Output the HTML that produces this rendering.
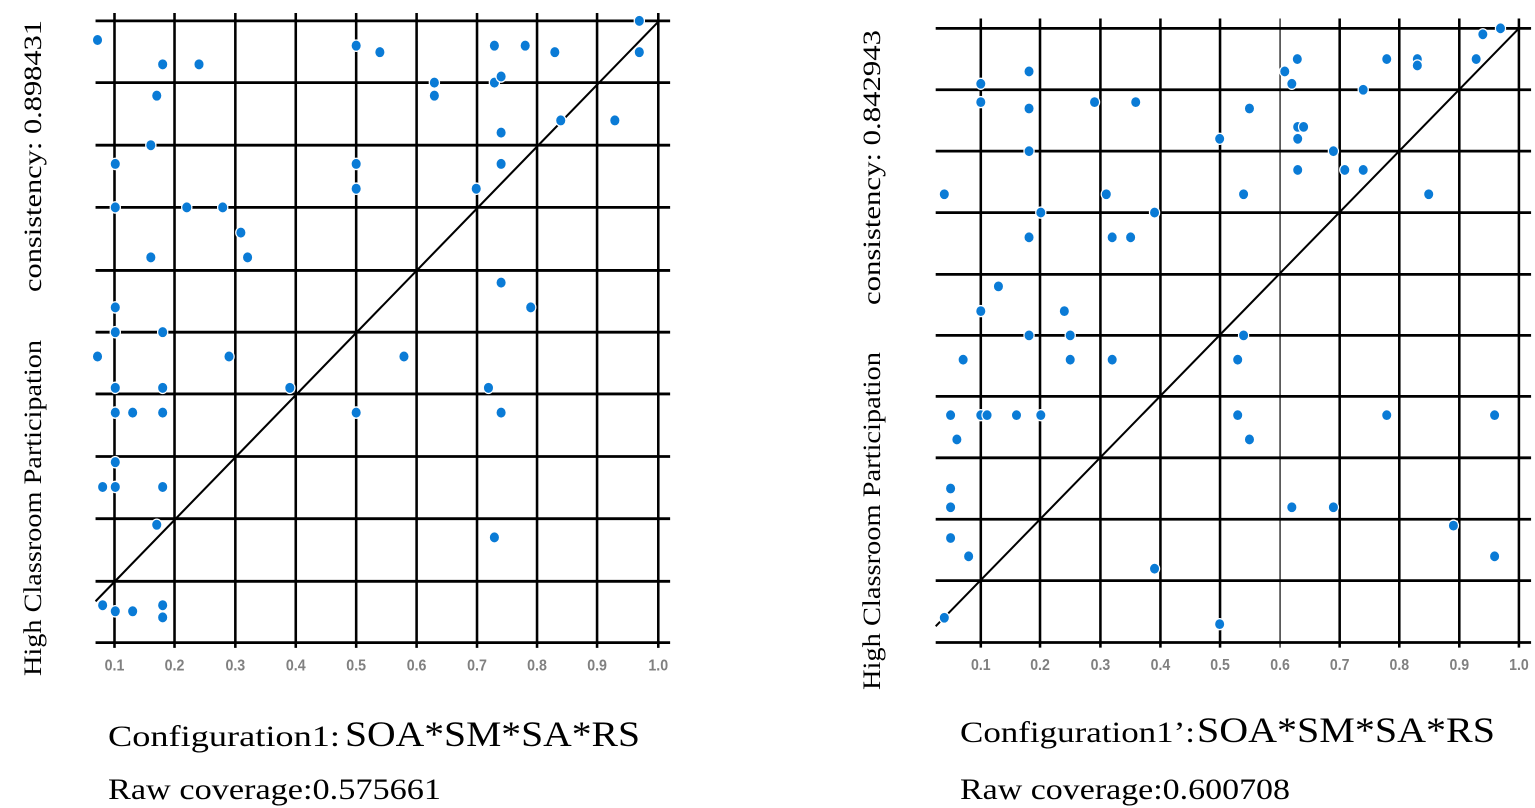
<!DOCTYPE html>
<html><head><meta charset="utf-8"><style>
html,body{margin:0;padding:0;background:#fff;width:1535px;height:808px;overflow:hidden}
svg{display:block}
.t{font-family:"Liberation Serif","Times New Roman",serif;fill:#000}
.lab{font-family:"Liberation Sans",sans-serif;font-weight:bold;fill:#808080;font-size:36px}
</style></head><body>
<svg width="1535" height="808" viewBox="0 0 1535 808" xmlns="http://www.w3.org/2000/svg">
<rect width="1535" height="808" fill="#fff"/>

<!-- LEFT PLOT -->
<svg x="60" y="0" width="620" height="680" viewBox="0 0 1570 1564" preserveAspectRatio="none">
 <g stroke="#000" stroke-width="6.5">
  <line x1="90" y1="48" x2="1545" y2="48"/><line x1="90" y1="190" x2="1545" y2="190"/>
  <line x1="90" y1="334" x2="1545" y2="334"/><line x1="90" y1="477" x2="1545" y2="477"/>
  <line x1="90" y1="622" x2="1545" y2="622"/><line x1="90" y1="764" x2="1545" y2="764"/>
  <line x1="90" y1="906" x2="1545" y2="906"/><line x1="90" y1="1050" x2="1545" y2="1050"/>
  <line x1="90" y1="1193" x2="1545" y2="1193"/><line x1="90" y1="1337" x2="1545" y2="1337"/>
  <line x1="90" y1="1478" x2="1545" y2="1478"/>
  <line x1="138" y1="30" x2="138" y2="1490"/><line x1="290" y1="30" x2="290" y2="1490"/>
  <line x1="444" y1="30" x2="444" y2="1490"/><line x1="597" y1="30" x2="597" y2="1490"/>
  <line x1="750" y1="30" x2="750" y2="1490"/><line x1="903" y1="30" x2="903" y2="1490"/>
  <line x1="1056" y1="30" x2="1056" y2="1490"/><line x1="1208" y1="30" x2="1208" y2="1490"/>
  <line x1="1360" y1="30" x2="1360" y2="1490"/><line x1="1515" y1="30" x2="1515" y2="1490"/>
  <line x1="90" y1="1383" x2="1515" y2="50" stroke-width="5"/>
 </g>
 <g fill="#0a7bd6" stroke="#fff" stroke-width="3">
  <circle cx="95" cy="92" r="13"/><circle cx="1467" cy="48" r="13"/><circle cx="750" cy="105" r="13"/>
  <circle cx="810" cy="120" r="13"/><circle cx="1100" cy="105" r="13"/><circle cx="1178" cy="105" r="13"/>
  <circle cx="1253" cy="120" r="13"/><circle cx="1467" cy="120" r="13"/><circle cx="260" cy="148" r="13"/>
  <circle cx="352" cy="148" r="13"/><circle cx="948" cy="190" r="13"/><circle cx="1100" cy="190" r="13"/>
  <circle cx="1117" cy="176" r="13"/><circle cx="245" cy="220" r="13"/><circle cx="948" cy="220" r="13"/>
  <circle cx="1268" cy="277" r="13"/><circle cx="1405" cy="277" r="13"/><circle cx="1117" cy="305" r="13"/>
  <circle cx="230" cy="334" r="13"/><circle cx="140" cy="377" r="13"/><circle cx="750" cy="377" r="13"/>
  <circle cx="1117" cy="377" r="13"/><circle cx="750" cy="434" r="13"/><circle cx="1054" cy="434" r="13"/>
  <circle cx="140" cy="477" r="13"/><circle cx="321" cy="477" r="13"/><circle cx="412" cy="477" r="13"/>
  <circle cx="458" cy="535" r="13"/><circle cx="230" cy="592" r="13"/><circle cx="475" cy="592" r="13"/>
  <circle cx="1117" cy="650" r="13"/><circle cx="1192" cy="707" r="13"/><circle cx="140" cy="707" r="13"/>
  <circle cx="140" cy="764" r="13"/><circle cx="260" cy="764" r="13"/><circle cx="95" cy="820" r="13"/>
  <circle cx="428" cy="820" r="13"/><circle cx="871" cy="820" r="13"/><circle cx="140" cy="892" r="13"/>
  <circle cx="260" cy="892" r="13"/><circle cx="582" cy="892" r="13"/><circle cx="1085" cy="892" r="13"/>
  <circle cx="140" cy="949" r="13"/><circle cx="184" cy="949" r="13"/><circle cx="260" cy="949" r="13"/>
  <circle cx="750" cy="949" r="13"/><circle cx="1117" cy="949" r="13"/><circle cx="140" cy="1063" r="13"/>
  <circle cx="108" cy="1120" r="13"/><circle cx="140" cy="1120" r="13"/><circle cx="260" cy="1120" r="13"/>
  <circle cx="245" cy="1207" r="13"/><circle cx="1100" cy="1236" r="13"/><circle cx="108" cy="1392" r="13"/>
  <circle cx="140" cy="1406" r="13"/><circle cx="184" cy="1406" r="13"/><circle cx="260" cy="1392" r="13"/>
  <circle cx="260" cy="1420" r="13"/>
 </g>
 <g class="lab" text-anchor="middle">
  <text x="138" y="1542">0.1</text><text x="290" y="1542">0.2</text><text x="444" y="1542">0.3</text>
  <text x="597" y="1542">0.4</text><text x="750" y="1542">0.5</text><text x="903" y="1542">0.6</text>
  <text x="1056" y="1542">0.7</text><text x="1208" y="1542">0.8</text><text x="1360" y="1542">0.9</text>
  <text x="1515" y="1542">1.0</text>
 </g>
</svg>

<!-- RIGHT PLOT -->
<svg x="920" y="10" width="615" height="670" viewBox="0 0 1568 1571" preserveAspectRatio="none">
 <g stroke="#000" stroke-width="6.5">
  <line x1="40" y1="43" x2="1558" y2="43"/><line x1="40" y1="187" x2="1558" y2="187"/>
  <line x1="40" y1="331" x2="1558" y2="331"/><line x1="40" y1="475" x2="1558" y2="475"/>
  <line x1="40" y1="620" x2="1558" y2="620"/><line x1="40" y1="763" x2="1558" y2="763"/>
  <line x1="40" y1="906" x2="1558" y2="906"/><line x1="40" y1="1050" x2="1558" y2="1050"/>
  <line x1="40" y1="1194" x2="1558" y2="1194"/><line x1="40" y1="1338" x2="1558" y2="1338"/>
  <line x1="40" y1="1483" x2="1558" y2="1483"/>
  <line x1="155" y1="20" x2="155" y2="1495"/><line x1="306" y1="20" x2="306" y2="1495"/>
  <line x1="460" y1="20" x2="460" y2="1495"/><line x1="613" y1="20" x2="613" y2="1495"/>
  <line x1="765" y1="20" x2="765" y2="1495"/><line x1="918" y1="20" x2="918" y2="1495" stroke-width="3"/>
  <line x1="1070" y1="20" x2="1070" y2="1495"/><line x1="1222" y1="20" x2="1222" y2="1495"/>
  <line x1="1375" y1="20" x2="1375" y2="1495"/><line x1="1527" y1="20" x2="1527" y2="1495"/>
  <line x1="40" y1="1445" x2="1527" y2="43" stroke-width="5"/>
 </g>
 <g fill="#0a7bd6" stroke="#fff" stroke-width="3">
  <circle cx="1480" cy="43" r="13"/><circle cx="1435" cy="57" r="13"/><circle cx="1418" cy="115" r="13"/>
  <circle cx="1190" cy="115" r="13"/><circle cx="1268" cy="115" r="13"/><circle cx="1268" cy="130" r="13"/>
  <circle cx="962" cy="115" r="13"/><circle cx="930" cy="144" r="13"/><circle cx="278" cy="144" r="13"/>
  <circle cx="155" cy="173" r="13"/><circle cx="948" cy="173" r="13"/><circle cx="1130" cy="187" r="13"/>
  <circle cx="155" cy="216" r="13"/><circle cx="445" cy="216" r="13"/><circle cx="550" cy="216" r="13"/>
  <circle cx="278" cy="231" r="13"/><circle cx="840" cy="231" r="13"/><circle cx="963" cy="274" r="13"/>
  <circle cx="978" cy="274" r="13"/><circle cx="963" cy="302" r="13"/><circle cx="764" cy="302" r="13"/>
  <circle cx="278" cy="331" r="13"/><circle cx="1054" cy="331" r="13"/><circle cx="963" cy="375" r="13"/>
  <circle cx="1083" cy="375" r="13"/><circle cx="1130" cy="375" r="13"/><circle cx="62" cy="432" r="13"/>
  <circle cx="475" cy="432" r="13"/><circle cx="825" cy="432" r="13"/><circle cx="1297" cy="432" r="13"/>
  <circle cx="308" cy="475" r="13"/><circle cx="598" cy="475" r="13"/><circle cx="278" cy="533" r="13"/>
  <circle cx="490" cy="533" r="13"/><circle cx="537" cy="533" r="13"/><circle cx="200" cy="648" r="13"/>
  <circle cx="155" cy="706" r="13"/><circle cx="368" cy="706" r="13"/><circle cx="278" cy="763" r="13"/>
  <circle cx="383" cy="763" r="13"/><circle cx="825" cy="763" r="13"/><circle cx="110" cy="820" r="13"/>
  <circle cx="383" cy="820" r="13"/><circle cx="490" cy="820" r="13"/><circle cx="810" cy="820" r="13"/>
  <circle cx="78" cy="950" r="13"/><circle cx="155" cy="950" r="13"/><circle cx="171" cy="950" r="13"/>
  <circle cx="246" cy="950" r="13"/><circle cx="308" cy="950" r="13"/><circle cx="810" cy="950" r="13"/>
  <circle cx="1190" cy="950" r="13"/><circle cx="1465" cy="950" r="13"/><circle cx="94" cy="1007" r="13"/>
  <circle cx="840" cy="1007" r="13"/><circle cx="78" cy="1122" r="13"/><circle cx="78" cy="1166" r="13"/>
  <circle cx="948" cy="1166" r="13"/><circle cx="1054" cy="1166" r="13"/><circle cx="1360" cy="1209" r="13"/>
  <circle cx="78" cy="1238" r="13"/><circle cx="124" cy="1281" r="13"/><circle cx="1465" cy="1281" r="13"/>
  <circle cx="598" cy="1310" r="13"/><circle cx="62" cy="1425" r="13"/><circle cx="764" cy="1440" r="13"/>
 </g>
 <g class="lab" text-anchor="middle">
  <text x="155" y="1547">0.1</text><text x="306" y="1547">0.2</text><text x="460" y="1547">0.3</text>
  <text x="613" y="1547">0.4</text><text x="765" y="1547">0.5</text><text x="918" y="1547">0.6</text>
  <text x="1070" y="1547">0.7</text><text x="1222" y="1547">0.8</text><text x="1375" y="1547">0.9</text>
  <text x="1527" y="1547">1.0</text>
 </g>
</svg>

<!-- Y labels -->
<text class="t" font-size="25" transform="translate(41,292) rotate(-90)" textLength="272" lengthAdjust="spacingAndGlyphs">consistency: 0.898431</text>
<text class="t" font-size="25" transform="translate(41,676) rotate(-90)" textLength="336" lengthAdjust="spacingAndGlyphs">High Classroom Participation</text>
<text class="t" font-size="25" transform="translate(880,305) rotate(-90)" textLength="275" lengthAdjust="spacingAndGlyphs">consistency: 0.842943</text>
<text class="t" font-size="25" transform="translate(880,690) rotate(-90)" textLength="338" lengthAdjust="spacingAndGlyphs">High Classroom Participation</text>

<!-- Captions -->
<text class="t" x="108" y="746" font-size="30" textLength="232" lengthAdjust="spacingAndGlyphs">Configuration1:</text>
<text class="t" x="345" y="746" font-size="36" textLength="295" lengthAdjust="spacingAndGlyphs">SOA*SM*SA*RS</text>
<text class="t" x="108" y="799" font-size="30" textLength="333" lengthAdjust="spacingAndGlyphs">Raw coverage:0.575661</text>

<text class="t" x="960" y="742" font-size="30" textLength="235" lengthAdjust="spacingAndGlyphs">Configuration1’:</text>
<text class="t" x="1197" y="742" font-size="36" textLength="298" lengthAdjust="spacingAndGlyphs">SOA*SM*SA*RS</text>
<text class="t" x="960" y="799" font-size="30" textLength="330" lengthAdjust="spacingAndGlyphs">Raw coverage:0.600708</text>
</svg>
</body></html>
